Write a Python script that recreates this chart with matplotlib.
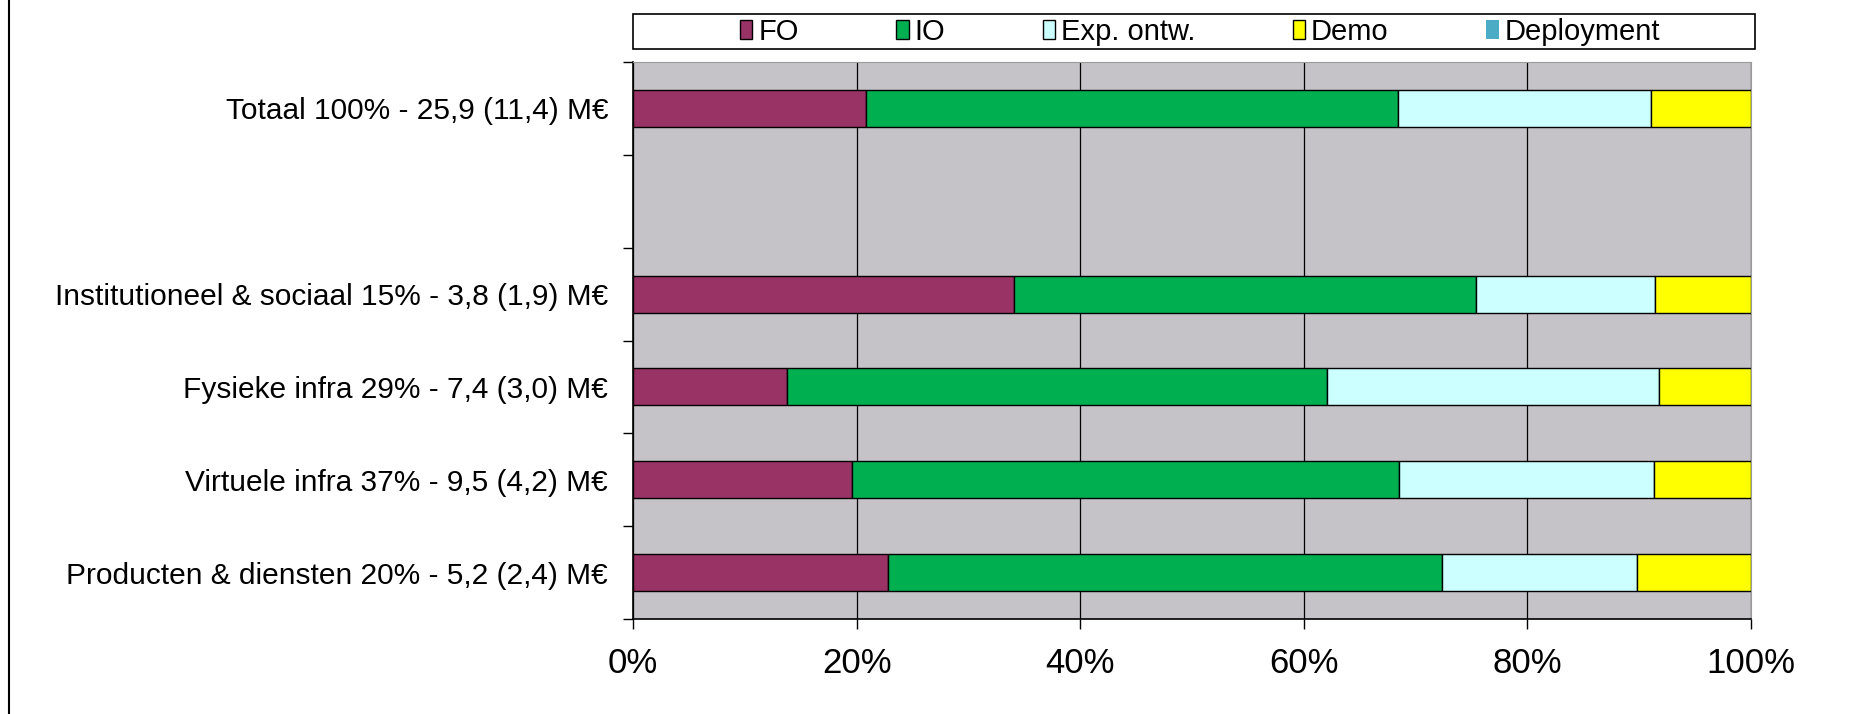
import numpy as np
import matplotlib
matplotlib.use('Agg')
import matplotlib.pyplot as plt
from matplotlib.lines import Line2D
from matplotlib.patches import Rectangle
from matplotlib.ticker import PercentFormatter

plt.rcParams['font.family'] = ['Liberation Sans', 'DejaVu Sans']

# categories, top to bottom (empty row between total and the rest)
labels = ['Totaal 100% - 25,9 (11,4) M€', '',
          'Institutioneel & sociaal 15% - 3,8 (1,9) M€',
          'Fysieke infra 29% - 7,4 (3,0) M€',
          'Virtuele infra 37% - 9,5 (4,2) M€',
          'Producten & diensten 20% - 5,2 (2,4) M€']
series = ['FO', 'IO', 'Exp. ontw.', 'Demo', 'Deployment']
nan = np.nan
fo = [20.8, nan, 34.1, 13.8, 19.6, 22.8]
io = [47.6, nan, 41.3, 48.3, 48.9, 49.6]
exp_ontw = [22.7, nan, 16.0, 29.7, 22.8, 17.4]
demo = [8.9, nan, 8.6, 8.2, 8.7, 10.2]
deployment = [0.0, nan, 0.0, 0.0, 0.0, 0.0]
colors = ['#993366', '#00b050', '#ccffff', '#ffff00', '#4bacc6']

fig = plt.figure(figsize=(18.76, 7.14), dpi=100)
ax = fig.add_axes([633 / 1876, 1 - 619 / 714, 1118 / 1876, 557 / 714])
ax.set_facecolor('#c5c3c7')

y = np.arange(len(labels))
left = np.zeros(len(labels))
handles = []
for name, vals, col in zip(series, [fo, io, exp_ontw, demo, deployment], colors):
    vals = np.array(vals, dtype=float)
    lw = 0 if name == 'Deployment' else 1.0
    b = ax.barh(y, vals, left=left, height=0.4, color=col, edgecolor='black',
                linewidth=lw, label=name, zorder=3)
    handles.append(b)
    left = left + np.nan_to_num(vals)

ax.set_xlim(0, 100)
ax.set_ylim(len(labels) - 0.5, -0.5)
ax.set_xticks([0, 20, 40, 60, 80, 100])
ax.xaxis.set_major_formatter(PercentFormatter(decimals=0))
ax.grid(axis='x', color='black', linewidth=0.9, zorder=1)

ax.set_yticks(np.arange(len(labels) + 1) - 0.5)
ax.set_yticklabels([])
ax.set_yticks(y, minor=True)
ax.set_yticklabels(labels, minor=True, fontsize=21.5)
ax.tick_params(axis='y', which='major', length=7, width=1, direction='out')
ax.tick_params(axis='y', which='minor', length=0, pad=18)
ax.tick_params(axis='x', length=7, width=1, direction='out', labelsize=25, pad=13)

for s in ['top', 'right']:
    ax.spines[s].set_color('#9a9a9a')
for s in ['left', 'bottom']:
    ax.spines[s].set_color('black')
    ax.spines[s].set_linewidth(1.2)

# legend box
fig.patches.append(Rectangle((633 / 1876, 1 - 49 / 714), 1122 / 1876, 35 / 714,
                             transform=fig.transFigure, facecolor='white',
                             edgecolor='black', linewidth=1.2))
fig.legend(handles=handles, loc='center', bbox_to_anchor=(1200 / 1876, 1 - 32 / 714),
           ncol=5, frameon=False, fontsize=21, handlelength=0.42, handleheight=0.6,
           handletextpad=0.2, columnspacing=3.35, borderpad=0)

# left frame line
fig.lines.append(Line2D([9 / 1876, 9 / 1876], [0, 1], transform=fig.transFigure,
                        color='black', linewidth=1.5))

fig.savefig('out.png', dpi=100)
